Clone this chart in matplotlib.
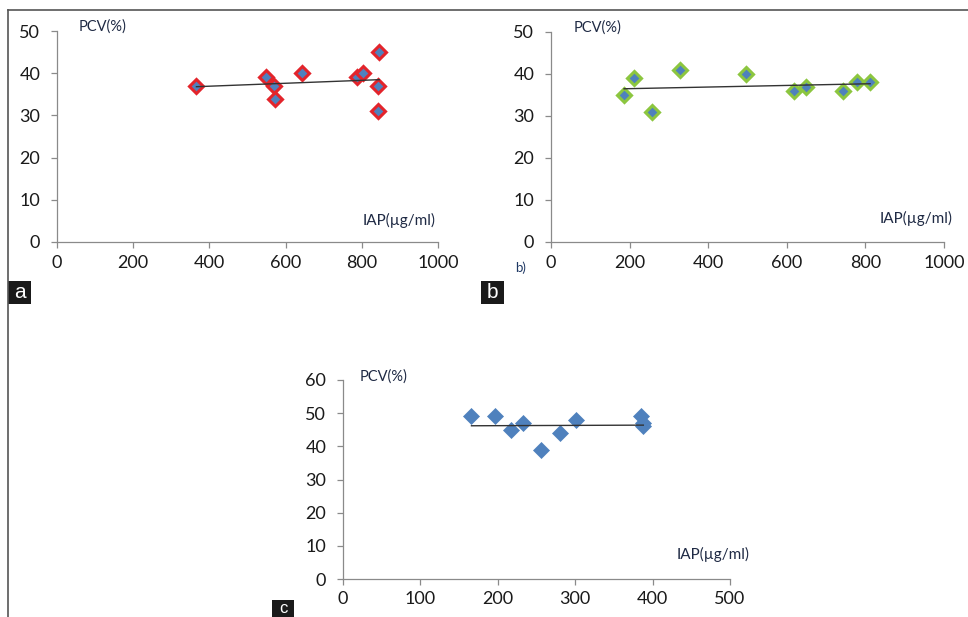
import numpy as np
import matplotlib
matplotlib.use("Agg")
import matplotlib.pyplot as plt
from matplotlib.lines import Line2D
from matplotlib.patches import Rectangle

plt.rcParams["font.family"] = ["Lato", "DejaVu Sans"]

# panel a: IAP vs PCV
iap_a = [366, 548, 570, 573, 644, 788, 802, 846, 842, 843]
pcv_a = [37, 39, 37, 34, 40, 39, 40, 45, 37, 31]

# panel b
iap_b = [186, 212, 256, 328, 495, 618, 649, 744, 778, 812]
pcv_b = [35, 39, 31, 41, 40, 36, 37, 36, 38, 38]

# panel c
iap_c = [166, 197, 217, 233, 256, 281, 301, 385, 388, 387]
pcv_c = [49, 49, 45, 47, 39, 44, 48, 49, 47, 46]

xticks_ab = [0, 200, 400, 600, 800, 1000]
yticks_ab = [0, 10, 20, 30, 40, 50]
xticks_c = [0, 100, 200, 300, 400, 500]
yticks_c = [0, 10, 20, 30, 40, 50, 60]

W, H = 968, 617
fig = plt.figure(figsize=(W / 100, H / 100), dpi=100)

FILL = "#4F81BD"
AXIS_GREY = "#8a8a8a"


def px_axes(left, right, bottom, top):
    """Add axes from pixel edges (origin top-left)."""
    return fig.add_axes([left / W, 1 - bottom / H, (right - left) / W, (bottom - top) / H])


def style_axes(ax, xticks, yticks):
    ax.set_xlim(xticks[0], xticks[-1])
    ax.set_ylim(yticks[0], yticks[-1])
    ax.set_xticks(xticks)
    ax.set_yticks(yticks)
    for side in ("top", "right"):
        ax.spines[side].set_visible(False)
    for side in ("left", "bottom"):
        ax.spines[side].set_color(AXIS_GREY)
        ax.spines[side].set_linewidth(0.9)
    ax.tick_params(axis="both", direction="out", length=4, width=0.9,
                   color=AXIS_GREY, labelsize=13, labelcolor="#1a1a1a")
    ax.tick_params(axis="y", pad=8)
    ax.tick_params(axis="x", pad=5)
    ax.patch.set_alpha(0)


def scatter_trend(ax, x, y, edge, ms, mew):
    x = np.asarray(x, float)
    y = np.asarray(y, float)
    slope, icpt = np.polyfit(x, y, 1)
    xs = np.array([x.min(), x.max()])
    ax.plot(xs, slope * xs + icpt, color="#333333", lw=1.0, zorder=3)
    ax.plot(x, y, linestyle="none", marker="D", ms=ms, mfc=FILL,
            mec=edge, mew=mew, zorder=2, clip_on=False)


def labels(ax, pcv_xy, iap_xy):
    ax.text(*pcv_xy, "PCV(%)", fontsize=10.5, color="#1f2a44", ha="left", va="center", clip_on=False)
    ax.text(*iap_xy, "IAP(µg/ml)", fontsize=11, color="#1f2a44", ha="left", va="center", clip_on=False)


# panel a
ax_a = px_axes(57, 438, 242, 31)
style_axes(ax_a, xticks_ab, yticks_ab)
scatter_trend(ax_a, iap_a, pcv_a, "#E3242B", 7, 2.2)
labels(ax_a, (58, 51), (803, 5.2))

# panel b
ax_b = px_axes(551, 944, 242, 32)
style_axes(ax_b, xticks_ab, yticks_ab)
scatter_trend(ax_b, iap_b, pcv_b, "#8CC63F", 7, 2.2)
labels(ax_b, (58, 51), (835, 5.5))

# panel c
ax_c = px_axes(343, 730, 579, 380)
style_axes(ax_c, xticks_c, yticks_c)
scatter_trend(ax_c, iap_c, pcv_c, FILL, 8.5, 0.5)
labels(ax_c, (22, 61), (431, 7.5))

# outer frame lines
fig.add_artist(Line2D([8 / W, 1], [1 - 10 / H, 1 - 10 / H], color="#555555", lw=1.2))
fig.add_artist(Line2D([8 / W, 8 / W], [1 - 10 / H, 0], color="#555555", lw=1.2))

# "b)" left over from the original figure
fig.text(521 / W, 1 - 268 / H, "b)", fontsize=9.5, color="#1f3864", ha="center", va="center")

# panel letter boxes
for letter, x0, x1, y0, y1, fs in [("a", 8, 31, 281, 304, 15), ("b", 481, 504, 281, 304, 15),
                                   ("c", 272, 294, 600, 617, 12)]:
    fig.add_artist(Rectangle((x0 / W, 1 - y1 / H), (x1 - x0) / W, (y1 - y0) / H,
                             transform=fig.transFigure, color="#1a1a1a", lw=0))
    fig.text((x0 + x1) / 2 / W, 1 - (y0 + y1) / 2 / H, letter, fontsize=fs,
             color="white", ha="center", va="center", family=["Liberation Sans", "DejaVu Sans"])

fig.savefig("out.png", dpi=100)
